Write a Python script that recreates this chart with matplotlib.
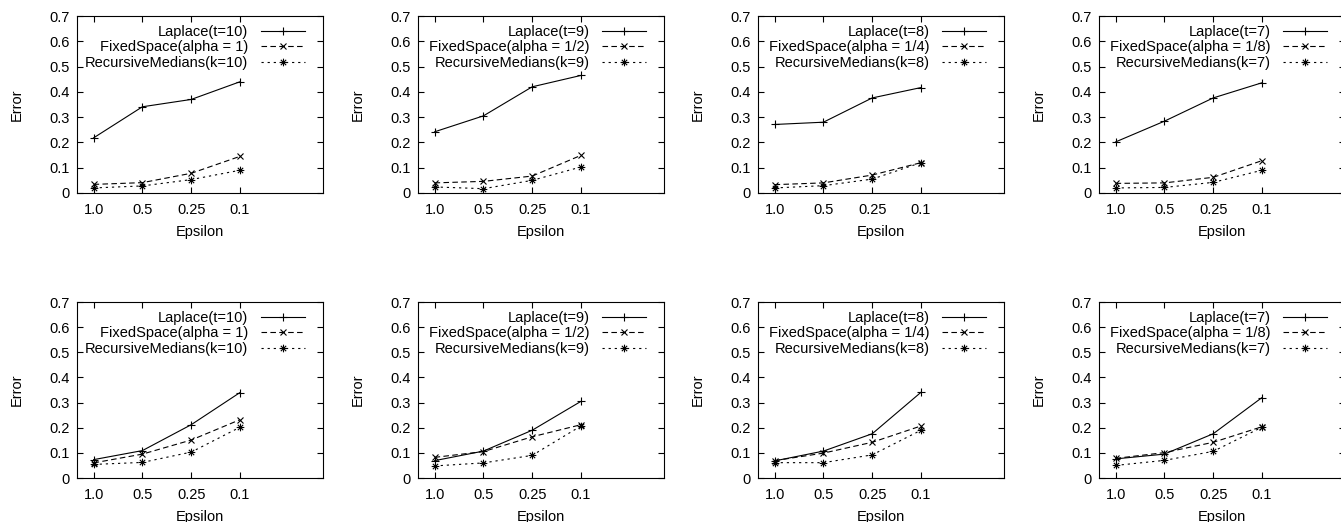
import matplotlib
matplotlib.use("Agg")
import matplotlib.pyplot as plt
from matplotlib.path import Path

plt.rcParams['font.family'] = ['Liberation Sans', 'DejaVu Sans']
plt.rcParams['font.size'] = 10.5

# x categories
eps_labels = ["1.0", "0.5", "0.25", "0.1"]
x = list(range(len(eps_labels)))

# legend labels per column
laplace_names = ["Laplace(t=10)", "Laplace(t=9)", "Laplace(t=8)", "Laplace(t=7)"]
fixed_names = ["FixedSpace(alpha = 1)", "FixedSpace(alpha = 1/2)",
               "FixedSpace(alpha = 1/4)", "FixedSpace(alpha = 1/8)"]
median_names = ["RecursiveMedians(k=10)", "RecursiveMedians(k=9)",
                "RecursiveMedians(k=8)", "RecursiveMedians(k=7)"]

# top row values
top_laplace = [[0.218, 0.341, 0.370, 0.440],
               [0.242, 0.305, 0.420, 0.465],
               [0.271, 0.280, 0.376, 0.417],
               [0.202, 0.284, 0.376, 0.436]]
top_fixed = [[0.034, 0.041, 0.078, 0.145],
             [0.040, 0.046, 0.067, 0.149],
             [0.033, 0.040, 0.071, 0.120],
             [0.038, 0.040, 0.062, 0.128]]
top_median = [[0.020, 0.028, 0.053, 0.090],
              [0.024, 0.017, 0.050, 0.103],
              [0.020, 0.029, 0.055, 0.120],
              [0.020, 0.022, 0.042, 0.090]]

# bottom row values
bot_laplace = [[0.073, 0.109, 0.212, 0.340],
               [0.069, 0.107, 0.190, 0.305],
               [0.068, 0.107, 0.176, 0.341],
               [0.076, 0.095, 0.176, 0.320]]
bot_fixed = [[0.060, 0.095, 0.151, 0.232],
             [0.082, 0.105, 0.164, 0.212],
             [0.069, 0.099, 0.142, 0.207],
             [0.078, 0.101, 0.142, 0.204]]
bot_median = [[0.054, 0.062, 0.103, 0.202],
              [0.048, 0.060, 0.090, 0.207],
              [0.061, 0.061, 0.092, 0.190],
              [0.050, 0.070, 0.106, 0.202]]

# gnuplot style asterisk (+ and x together)
asterisk = Path([(-1, 0), (1, 0), (0, -1), (0, 1),
                 (-0.7, -0.7), (0.7, 0.7), (-0.7, 0.7), (0.7, -0.7)],
                [Path.MOVETO, Path.LINETO] * 4)

W, H = 1341, 522
fig = plt.figure(figsize=(W / 100, H / 100), dpi=100)

lefts = [77, 418, 758, 1099]
rows = [(16, 193), (302, 478)]
ax_w = 246
lw = 0.8


def draw_panel(ax, lap, fix, med, i):
    ax.plot(x, lap, color="black", lw=lw, marker="+", ms=6, mew=lw,
            label=laplace_names[i])
    ax.plot(x, fix, color="black", lw=lw, marker="x", ms=5, mew=lw,
            dashes=(5, 3), label=fixed_names[i])
    ax.plot(x, med, color="black", lw=lw, marker=asterisk, ms=5.5, mew=lw,
            dashes=(2, 3.5), label=median_names[i])
    ax.set_xlim(-0.34, 4.7)
    ax.set_ylim(0, 0.7)
    ax.set_xticks(x)
    ax.set_xticklabels(eps_labels)
    ax.set_yticks([0, 0.1, 0.2, 0.3, 0.4, 0.5, 0.6, 0.7])
    ax.set_yticklabels(["0", "0.1", "0.2", "0.3", "0.4", "0.5", "0.6", "0.7"])
    ax.tick_params(direction="in", top=True, right=True, length=4, width=lw,
                   pad=5)
    ax.tick_params(axis="x", pad=7)
    for s in ax.spines.values():
        s.set_linewidth(lw)
    ax.set_xlabel("Epsilon", labelpad=6)
    ax.set_ylabel("Error", labelpad=19)
    ax.legend(loc="upper right", bbox_to_anchor=(0.925, 0.95),
              frameon=False, markerfirst=False, numpoints=1,
              handlelength=3.0, handletextpad=0.85, labelspacing=0.1,
              borderpad=0, borderaxespad=0)


for r, (top, bottom) in enumerate(rows):
    for i, left in enumerate(lefts):
        ax = fig.add_axes([left / W, 1 - bottom / H, ax_w / W, (bottom - top) / H])
        if r == 0:
            draw_panel(ax, top_laplace[i], top_fixed[i], top_median[i], i)
        else:
            draw_panel(ax, bot_laplace[i], bot_fixed[i], bot_median[i], i)

fig.savefig("out.png", dpi=100)
